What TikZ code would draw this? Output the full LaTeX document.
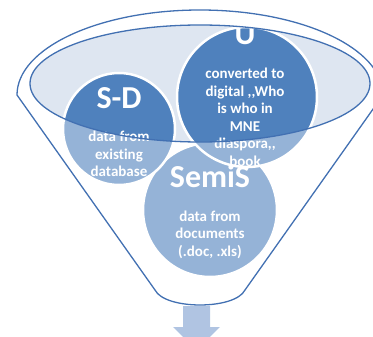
\documentclass[tikz,border=0pt]{standalone}
\usepackage{fontspec}
\setmainfont[Ligatures=NoCommon]{Carlito}
\definecolor{dkblue}{RGB}{79,129,189}
\definecolor{rimline}{RGB}{66,112,178}
\definecolor{mouth}{RGB}{222,230,241}
\definecolor{arrowc}{RGB}{176,196,226}
\tikzset{
  bubble/.style={circle, fill=dkblue, draw=white, line width=2.5pt, inner sep=0pt},
  bigtxt/.style={text=white, font=\fontsize{32}{34}\selectfont\bfseries, inner sep=0pt},
  smalltxt/.style={text=white, font=\fontsize{15}{17.5}\selectfont\bfseries, align=center, inner sep=0pt},
}
\begin{document}
\begin{tikzpicture}[x=1pt,y=-1pt]
\useasboundingbox (0,0) rectangle (373,337);
% mouth of the funnel
\fill[mouth] (200,83.5) ellipse [x radius=170pt, y radius=58.5pt];
% circles
\node[bubble, minimum size=134pt] (semis) at (210,210) {};
\node[bubble, minimum size=112pt] (sd) at (119,129) {};
\node[bubble, minimum size=140pt] (u) at (247,97) {};
% texts
\node[bigtxt] (semisT) at (210,176) {SemiS};
\node[smalltxt] (semisB) at (210,234.5) {data from\\documents\\(.doc, .xls)};
\node[bigtxt] (sdT) at (119,98) {S-D};
\node[smalltxt] (sdB) at (119,154) {data from\\existing\\database};
\node[bigtxt] (uT) at (245,34) {U};
\node[smalltxt] (uB) at (245,117.5) {converted to\\digital ,{},Who\\is who in\\MNE\\diaspora,{},\\book};
% translucent funnel body
\fill[white, opacity=0.4, even odd rule]
  (17,95) arc[start angle=180, end angle=0, x radius=183pt, y radius=85pt]
  -- (245,290) .. controls (235,310) and (165,310) .. (155,290) -- cycle
  (200,83.5) ellipse [x radius=170pt, y radius=58.5pt];
% outlines
\draw[rimline, line width=1.3pt, line join=round]
  (17,95) arc[start angle=180, end angle=0, x radius=183pt, y radius=85pt]
  -- (245,290) .. controls (235,310) and (165,310) .. (155,290) -- cycle;
\draw[rimline, line width=1.3pt] (200,83.5) ellipse [x radius=170pt, y radius=58.5pt];
% arrow
\fill[arrowc] (183,306) -- (210,306) -- (210,327) -- (220,327) -- (196.5,350)
  -- (173,327) -- (183,327) -- cycle;
\end{tikzpicture}
\end{document}
